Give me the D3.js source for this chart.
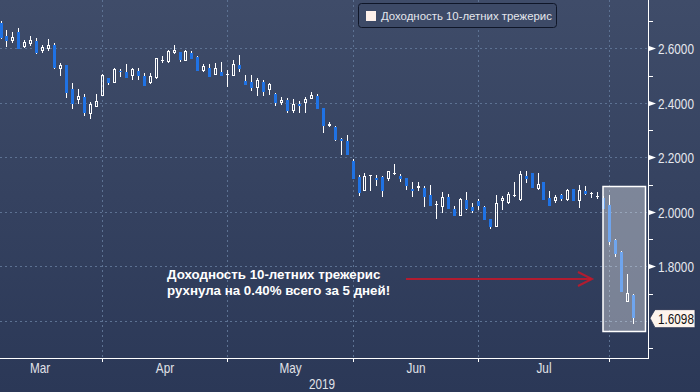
<!DOCTYPE html>
<html><head><meta charset="utf-8">
<script src="https://cdn.jsdelivr.net/npm/d3@7"></script>
<style>html,body{margin:0;padding:0;background:#2b3857;overflow:hidden}</style>
</head><body><svg id="c" width="700" height="392"></svg>
<script>
// ---- data ----
const dates = [
 "2019-03-07","2019-03-08","2019-03-11","2019-03-12","2019-03-13","2019-03-14","2019-03-15","2019-03-18","2019-03-19","2019-03-20","2019-03-21","2019-03-22","2019-03-25","2019-03-26","2019-03-27","2019-03-28","2019-03-29",
 "2019-04-01","2019-04-02","2019-04-03","2019-04-04","2019-04-05","2019-04-08","2019-04-09","2019-04-10","2019-04-11","2019-04-12","2019-04-15","2019-04-16","2019-04-17","2019-04-18","2019-04-22","2019-04-23","2019-04-24","2019-04-25","2019-04-26","2019-04-29","2019-04-30",
 "2019-05-01","2019-05-02","2019-05-03","2019-05-06","2019-05-07","2019-05-08","2019-05-09","2019-05-10","2019-05-13","2019-05-14","2019-05-15","2019-05-16","2019-05-17","2019-05-20","2019-05-21","2019-05-22","2019-05-23","2019-05-24","2019-05-28","2019-05-29","2019-05-30","2019-05-31",
 "2019-06-03","2019-06-04","2019-06-05","2019-06-06","2019-06-07","2019-06-10","2019-06-11","2019-06-12","2019-06-13","2019-06-14","2019-06-17","2019-06-18","2019-06-19","2019-06-20","2019-06-21","2019-06-24","2019-06-25","2019-06-26","2019-06-27","2019-06-28",
 "2019-07-01","2019-07-02","2019-07-03","2019-07-05","2019-07-08","2019-07-09","2019-07-10","2019-07-11","2019-07-12","2019-07-15","2019-07-16","2019-07-17","2019-07-18","2019-07-19","2019-07-22","2019-07-23","2019-07-24","2019-07-25","2019-07-26","2019-07-29","2019-07-30","2019-07-31",
 "2019-08-01","2019-08-02","2019-08-05","2019-08-06","2019-08-07"];
const open = [
 2.692,2.645,2.628,2.660,2.604,2.616,2.627,2.591,2.596,2.612,2.523,2.539,2.450,2.409,2.421,2.359,2.386,
 2.426,2.490,2.472,2.518,2.514,2.498,2.517,2.498,2.472,2.490,2.555,2.550,2.582,2.586,2.555,2.584,2.569,2.518,2.527,2.502,2.514,
 2.502,2.498,2.539,2.481,2.477,2.453,2.477,2.447,2.432,2.398,2.410,2.371,2.396,2.398,2.413,2.425,2.380,2.315,2.312,2.268,2.260,2.188,
 2.126,2.078,2.130,2.124,2.126,2.120,2.141,2.133,2.124,2.084,2.088,2.087,2.062,2.025,2.018,2.054,2.010,1.983,2.044,2.017,
 2.041,2.017,1.973,1.943,2.041,2.034,2.060,2.044,2.130,2.141,2.083,2.109,2.049,2.039,2.060,2.044,2.083,2.040,2.077,2.067,2.056,2.052,
 2.026,1.897,1.853,1.670,1.695];
const high = [
 2.700,2.667,2.659,2.673,2.630,2.645,2.638,2.611,2.634,2.618,2.545,2.540,2.474,2.452,2.431,2.403,2.432,
 2.506,2.492,2.527,2.524,2.542,2.527,2.527,2.508,2.508,2.563,2.572,2.594,2.612,2.586,2.594,2.591,2.572,2.542,2.542,2.545,2.551,
 2.520,2.557,2.575,2.502,2.502,2.490,2.484,2.474,2.437,2.422,2.417,2.413,2.408,2.422,2.441,2.431,2.380,2.331,2.315,2.272,2.282,2.193,
 2.135,2.144,2.136,2.135,2.132,2.151,2.175,2.139,2.124,2.108,2.111,2.096,2.098,2.038,2.071,2.066,2.022,2.051,2.071,2.034,
 2.047,2.022,1.973,2.062,2.059,2.071,2.111,2.151,2.148,2.144,2.144,2.111,2.076,2.062,2.067,2.083,2.083,2.098,2.096,2.074,2.074,2.059,
 2.060,1.900,1.857,1.770,1.700];
const low = [
 2.634,2.604,2.618,2.596,2.602,2.608,2.579,2.582,2.591,2.524,2.498,2.419,2.378,2.396,2.353,2.342,2.386,
 2.426,2.465,2.472,2.496,2.492,2.484,2.484,2.462,2.469,2.487,2.545,2.547,2.579,2.550,2.555,2.561,2.518,2.514,2.496,2.502,2.498,
 2.457,2.498,2.514,2.465,2.444,2.425,2.425,2.429,2.388,2.392,2.361,2.361,2.364,2.364,2.413,2.378,2.290,2.310,2.261,2.208,2.208,2.120,
 2.059,2.078,2.078,2.093,2.053,2.112,2.135,2.108,2.081,2.056,2.078,2.016,2.020,1.973,1.997,2.011,1.983,1.983,2.007,1.997,
 2.007,1.970,1.936,1.943,2.007,2.030,2.056,2.038,2.105,2.087,2.081,2.043,2.023,2.034,2.039,2.040,2.038,2.014,2.062,2.050,2.047,2.011,
 1.880,1.835,1.706,1.670,1.590];
const close = [
 2.637,2.628,2.640,2.599,2.623,2.630,2.584,2.604,2.611,2.526,2.538,2.437,2.396,2.424,2.361,2.396,2.406,
 2.501,2.474,2.524,2.517,2.492,2.523,2.498,2.462,2.497,2.563,2.557,2.591,2.594,2.557,2.590,2.561,2.518,2.535,2.496,2.527,2.498,
 2.504,2.542,2.524,2.465,2.453,2.484,2.441,2.469,2.400,2.410,2.371,2.394,2.388,2.415,2.429,2.378,2.315,2.321,2.263,2.261,2.208,2.120,
 2.068,2.132,2.136,2.115,2.078,2.148,2.143,2.120,2.093,2.078,2.095,2.056,2.020,2.030,2.054,2.011,1.983,2.048,2.010,2.003,
 2.022,1.970,1.943,2.034,2.052,2.066,2.062,2.139,2.120,2.087,2.102,2.043,2.023,2.054,2.048,2.081,2.040,2.081,2.066,2.070,2.058,2.012,
 1.890,1.846,1.706,1.703,1.6098];
const yMajorTicks = [2.6, 2.4, 2.2, 2.0, 1.8, 1.6];
const yMinorTicks = [2.7, 2.5, 2.3, 2.1, 1.9, 1.7, 1.5];
const monthLabels = ["Mar", "Apr", "May", "Jun", "Jul"];
const monthStarts = ["2019-04-01", "2019-05-01", "2019-06-01", "2019-07-01", "2019-08-01"];
const yearLabel = "2019";
const seriesName = "Доходность 10-летних трежерис";
const noteLines = ["Доходность 10-летних трежерис", "рухнула на 0.40% всего за 5 дней!"];
const highlightDates = ["2019-07-31", "2019-08-07"];
const lastValueText = "1.6098";

// ---- layout ----
const W = 700, H = 392, plotR = 648, plotB = 358;
const BLUE = "#1f72e4";
const AXISFONT = "'Liberation Sans',Arial,sans-serif";
const NARROW = 0.84;
const svg = d3.select("#c");

function narrowText(parent, xx, yy, txt, fill, anchor) {
  return parent.append("text")
    .attr("transform", `translate(${xx},${yy}) scale(${NARROW},1)`)
    .attr("text-anchor", anchor || "start")
    .attr("fill", fill).attr("font-family", AXISFONT).attr("font-size", 14).text(txt);
}

const defs = svg.append("defs");
const lg = defs.append("linearGradient").attr("id", "bg").attr("x1", 0).attr("y1", 0).attr("x2", 0).attr("y2", 1);
lg.append("stop").attr("offset", "0%").attr("stop-color", "#3f4c69");
lg.append("stop").attr("offset", "100%").attr("stop-color", "#2b3857");
svg.append("rect").attr("width", W).attr("height", H).attr("fill", "url(#bg)");

const x = d3.scalePoint().domain(dates).range([0.5, 633]);
const y = d3.scaleLinear().domain([1.6, 2.6]).range([320.8, 48.3]);
const px = d => Math.round(x(d)) + 0.5;

// month tick positions: last trading day on or before month start
const tickDates = monthStarts.map(ms => dates.filter(d => d <= ms).pop());
const tickX = tickDates.map(px);

// grid
const grid = svg.append("g").attr("stroke", "#5d7293").attr("stroke-width", 1).attr("stroke-dasharray", "2,3");
yMajorTicks.forEach(v => {
  const yy = Math.round(y(v)) + 0.5;
  grid.append("line").attr("x1", 0).attr("x2", plotR).attr("y1", yy).attr("y2", yy);
});
tickX.forEach(xx => grid.append("line").attr("x1", xx).attr("x2", xx).attr("y1", 0).attr("y2", plotB));

// candles
const g = svg.append("g");
dates.forEach((d, i) => {
  const o = open[i], c = close[i], h = high[i], l = low[i];
  const cx = px(d);
  const up = c >= o;
  const top = Math.round(y(Math.max(o, c))), bot = Math.round(y(Math.min(o, c)));
  const yh = Math.round(y(h)), yl = Math.round(y(l));
  const bh = bot - top;
  if (up && bh >= 2) {
    g.append("line").attr("x1", cx).attr("x2", cx).attr("y1", yh).attr("y2", top).attr("stroke", "#fff");
    g.append("line").attr("x1", cx).attr("x2", cx).attr("y1", bot).attr("y2", yl).attr("stroke", "#fff");
    g.append("rect").attr("x", cx - 1).attr("y", top + 0.5).attr("width", 2).attr("height", bh - 1)
      .attr("fill", "none").attr("stroke", "#fff");
  } else {
    g.append("line").attr("x1", cx).attr("x2", cx).attr("y1", yh).attr("y2", yl).attr("stroke", "#fff");
    g.append("rect").attr("x", cx - 1.5).attr("y", top).attr("width", 3).attr("height", Math.max(bh, 1))
      .attr("fill", up ? "#fff" : BLUE);
  }
});

// highlight box
const hi0 = dates.indexOf(highlightDates[0]), hi1 = dates.indexOf(highlightDates[1]);
const hiH = d3.max(high.slice(hi0, hi1 + 1)), hiL = d3.min(low.slice(hi0, hi1 + 1));
const bx0 = px(highlightDates[0]) - 0.5, bx1 = px(highlightDates[1]) + 12;
const by0 = Math.round(y(hiH)) - 8.5, by1 = Math.round(y(hiL)) + 7.5;
svg.append("rect").attr("x", bx0).attr("y", by0).attr("width", bx1 - bx0).attr("height", by1 - by0)
  .attr("fill", "rgba(255,255,255,0.36)").attr("stroke", "#fff").attr("stroke-width", 1.5);

// axes
const ax = svg.append("g").attr("stroke", "#fff").attr("stroke-width", 1);
ax.append("line").attr("x1", plotR + 0.5).attr("x2", plotR + 0.5).attr("y1", 0).attr("y2", plotB + 1);
ax.append("line").attr("x1", 0).attr("x2", plotR + 1).attr("y1", plotB + 0.5).attr("y2", plotB + 0.5);
tickX.forEach(xx => ax.append("line").attr("x1", xx).attr("x2", xx).attr("y1", plotB).attr("y2", plotB + 4));
yMinorTicks.forEach(v => {
  const yy = Math.round(y(v)) + 0.5;
  ax.append("line").attr("x1", plotR).attr("x2", plotR + 5).attr("y1", yy).attr("y2", yy);
});
yMajorTicks.forEach(v => {
  const yy = Math.round(y(v)) + 0.5;
  if (v === 1.6) return;
  svg.append("path").attr("d", `M${plotR + 1},${yy - 2.5} L${plotR + 8},${yy} L${plotR + 1},${yy + 2.5} Z`).attr("fill", "#fff");
  narrowText(svg, plotR + 10, yy + 5, d3.format(".4f")(v), "#e6e8ee");
});

// x labels
const step = tickX[1] - tickX[0];
const mids = [tickX[0] - step / 2];
for (let i = 0; i < tickX.length - 1; i++) mids.push((tickX[i] + tickX[i + 1]) / 2);
monthLabels.forEach((m, i) => narrowText(svg, mids[i], 373, m, "#e0e2e8", "middle"));
narrowText(svg, plotR / 2 - 2, 389, yearLabel, "#e0e2e8", "middle");

// last value label
const ly = y(close[close.length - 1]);
const lbl = svg.append("g");
lbl.append("path").attr("d", `M${plotR + 2},${ly} L${plotR + 7},${ly - 8.5} L${plotR + 47},${ly - 8.5} L${plotR + 47},${ly + 9.5} L${plotR + 7},${ly + 9.5} Z`)
  .attr("fill", "#fdf4ed").attr("stroke", "#2a3450").attr("stroke-width", 0.8);
narrowText(lbl, plotR + 10, ly + 6, lastValueText, "#111");

// legend
const leg = svg.append("g");
leg.append("rect").attr("x", 358.5).attr("y", 3.5).attr("width", 198).attr("height", 24).attr("rx", 3)
  .attr("fill", "#3d4a67").attr("stroke", "#0f1628").attr("stroke-width", 1);
leg.append("rect").attr("x", 366).attr("y", 11).attr("width", 10).attr("height", 10).attr("fill", "#fdf0ea");
leg.append("text").attr("x", 381).attr("y", 20).attr("fill", "#e4e6ec")
  .attr("font-family", "'Liberation Sans',Arial,sans-serif").attr("font-size", 11.4).text(seriesName);

// annotation
noteLines.forEach((t, i) => {
  svg.append("text").attr("x", 167).attr("y", 279 + i * 16).attr("fill", "#fff")
    .attr("font-family", "'Liberation Sans',Arial,sans-serif").attr("font-weight", "bold").attr("font-size", 13.3).text(t);
});
const ar = svg.append("g").attr("stroke", "rgba(200,22,40,0.85)").attr("stroke-width", 2).attr("fill", "none");
ar.append("line").attr("x1", 406).attr("x2", 591).attr("y1", 279).attr("y2", 279);
ar.append("path").attr("d", "M578,272 L592,279 L578,286");
</script></body></html>
